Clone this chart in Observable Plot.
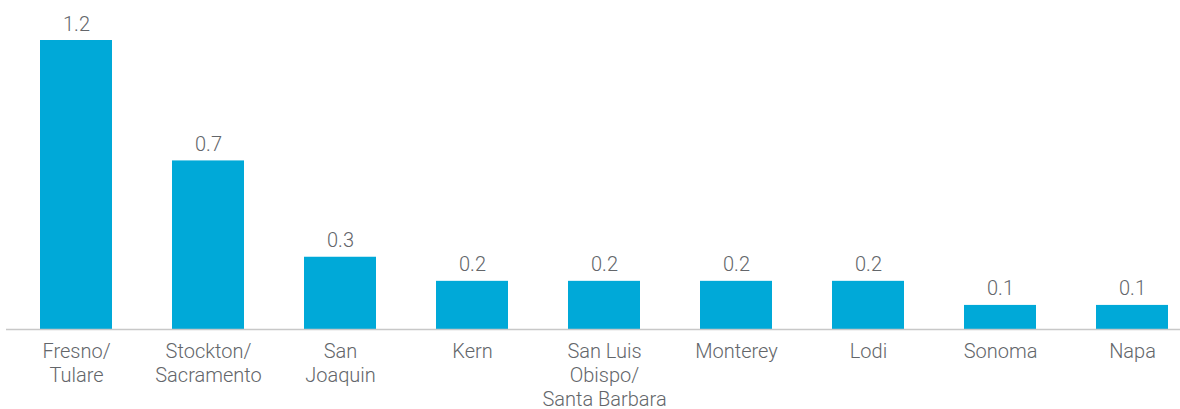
<!DOCTYPE html>
<html>
<head>
<meta charset="utf-8">
<script src="https://cdn.jsdelivr.net/npm/d3@7"></script>
<script src="https://cdn.jsdelivr.net/npm/@observablehq/plot@0.6"></script>
<style>
  html, body { margin: 0; padding: 0; background: #fff; }
  #chart svg { display: block; }
</style>
</head>
<body>
<div id="chart"></div>
<script>
const categories = ["Fresno/Tulare", "Stockton/Sacramento", "San Joaquin", "Kern", "San Luis Obispo/Santa Barbara", "Monterey", "Lodi", "Sonoma", "Napa"];
const tickLabels = ["Fresno/\nTulare", "Stockton/\nSacramento", "San\nJoaquin", "Kern", "San Luis\nObispo/\nSanta Barbara", "Monterey", "Lodi", "Sonoma", "Napa"];
const values = [1.2, 0.7, 0.3, 0.2, 0.2, 0.2, 0.2, 0.1, 0.1];

const data = categories.map((c, i) => ({category: c, value: values[i]}));
const labelOf = new Map(categories.map((c, i) => [c, tickLabels[i]]));

const textColor = "#63666a";
const barColor = "#00a9d8";

const chart = Plot.plot({
  width: 1180,
  height: 409,
  marginTop: 40,
  marginBottom: 80,
  marginLeft: 6,
  marginRight: 0,
  style: {fontFamily: "Roboto, sans-serif", fontSize: "20px", fontWeight: 300, color: textColor, background: "#fff"},
  x: {domain: categories, range: [8.2, 1199.6], paddingInner: 0.456, paddingOuter: 0.228, label: null},
  y: {domain: [0, 1.2], axis: null},
  marks: [
    Plot.barY(data, {x: "category", y: "value", fill: barColor}),
    Plot.ruleY([0], {stroke: "#c8c8c8", strokeWidth: 1.5}),
    Plot.text(data, {x: "category", y: "value", text: d => d.value.toFixed(1), lineAnchor: "bottom", dy: -10, fill: textColor, fontSize: 20, fontWeight: 300}),
    Plot.axisX({tickSize: 0, tickPadding: 11, tickFormat: d => labelOf.get(d), lineHeight: 1.2, fontSize: 20, fontWeight: 300, fill: textColor, label: null})
  ]
});
document.getElementById("chart").appendChild(chart);
</script>
</body>
</html>
